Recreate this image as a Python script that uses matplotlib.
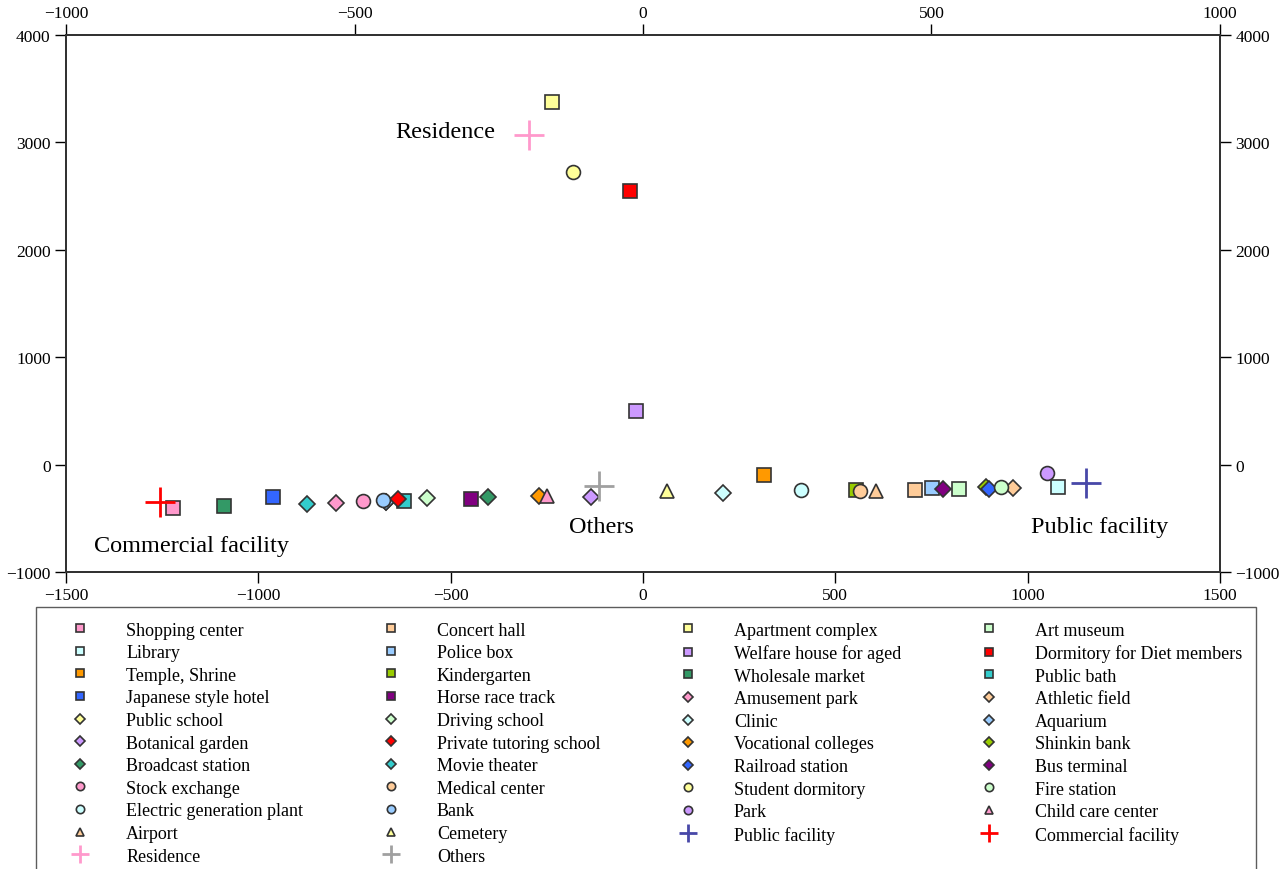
import matplotlib
matplotlib.use("Agg")
import matplotlib.pyplot as plt

plt.rcParams['font.family'] = ['Liberation Serif', 'DejaVu Serif']

# facility names, in plotting order (row by row of the legend)
names = [
    'Shopping center', 'Concert hall', 'Apartment complex', 'Art museum',
    'Library', 'Police box', 'Welfare house for aged', 'Dormitory for Diet members',
    'Temple, Shrine', 'Kindergarten', 'Wholesale market', 'Public bath',
    'Japanese style hotel', 'Horse race track', 'Amusement park', 'Athletic field',
    'Public school', 'Driving school', 'Clinic', 'Aquarium',
    'Botanical garden', 'Private tutoring school', 'Vocational colleges', 'Shinkin bank',
    'Broadcast station', 'Movie theater', 'Railroad station', 'Bus terminal',
    'Stock exchange', 'Medical center', 'Student dormitory', 'Fire station',
    'Electric generation plant', 'Bank', 'Park', 'Child care center',
    'Airport', 'Cemetery', 'Public facility', 'Commercial facility',
    'Residence', 'Others',
]

x_vals = [
    -1221, 707, -237, 822,
    1080, 752, -19, -34,
    315, 555, -1089, -621,
    -961, -448, -798, 962,
    -668, -562, 209, -668,
    -135, -636, -270, 893,
    -402, -874, 899, 781,
    -727, 564, -181, 932,
    412, -675, 1051, -249,
    605, 63, 1151, -1255,
    -296, -114,
]

y_vals = [
    -404, -237, 3373, -227,
    -211, -215, 502, 2550,
    -94, -237, -383, -342,
    -305, -323, -358, -220,
    -345, -314, -264, -345,
    -299, -320, -290, -211,
    -305, -367, -227, -227,
    -342, -243, 2727, -211,
    -234, -330, -81, -295,
    -243, -243, -174, -348,
    3072, -196,
]

markers = [
    's', 's', 's', 's',
    's', 's', 's', 's',
    's', 's', 's', 's',
    's', 's', 'D', 'D',
    'D', 'D', 'D', 'D',
    'D', 'D', 'D', 'D',
    'D', 'D', 'D', 'D',
    'o', 'o', 'o', 'o',
    'o', 'o', 'o', '^',
    '^', '^', '+', '+',
    '+', '+',
]

colors = [
    '#ff99cc', '#ffcc99', '#ffff99', '#ccffcc',
    '#ccffff', '#99ccff', '#cc99ff', '#ff0000',
    '#ff9900', '#99cc00', '#339966', '#33cccc',
    '#3366ff', '#800080', '#ff99cc', '#ffcc99',
    '#ffff99', '#ccffcc', '#ccffff', '#99ccff',
    '#cc99ff', '#ff0000', '#ff9900', '#99cc00',
    '#339966', '#33cccc', '#3366ff', '#800080',
    '#ff99cc', '#ffcc99', '#ffff99', '#ccffcc',
    '#ccffff', '#99ccff', '#cc99ff', '#ff99cc',
    '#ffcc99', '#ffff99', '#4848a8', '#ff0000',
    '#ff99cc', '#a0a0a0',
]

# group labels written next to the crosses
group_labels = ['Residence', 'Others', 'Public facility', 'Commercial facility']
group_x = [-515, -109, 1188, -1175]
group_y = [3097, -572, -572, -758]

fig = plt.figure(figsize=(12.82, 8.70), dpi=100)
ax = fig.add_axes([0.0515, 0.3414, 0.9001, 0.6172])

handles = []
for name, x, y, m, c in zip(names, x_vals, y_vals, markers, colors):
    if m == '+':
        h, = ax.plot(x, y, linestyle='none', marker='+', markersize=22,
                     markeredgewidth=2, color=c, label=name)
    else:
        size = 8.5 if m == 'D' else 10
        h, = ax.plot(x, y, linestyle='none', marker=m, markersize=size,
                     markerfacecolor=c, markeredgecolor='#333333',
                     markeredgewidth=1.2, label=name)
    handles.append(h)

for label, x, y in zip(group_labels, group_x, group_y):
    ax.text(x, y, label, ha='center', va='center', fontsize=17.5)

ax.set_xlim(-1500, 1500)
ax.set_ylim(-1000, 4000)
ax.set_xticks([-1500, -1000, -500, 0, 500, 1000, 1500])
ax.set_yticks([-1000, 0, 1000, 2000, 3000, 4000])
ax.tick_params(direction='out', length=8, width=1, labelsize=12.5, pad=3)

top = ax.twiny()
top.set_xlim(-1000, 1000)
top.set_xticks([-1000, -500, 0, 500, 1000])
top.tick_params(direction='out', length=8, width=1, labelsize=12.5, pad=2)

right = ax.twinx()
right.set_ylim(-1000, 4000)
right.set_yticks([-1000, 0, 1000, 2000, 3000, 4000])
right.tick_params(direction='out', length=8, width=1, labelsize=12.5, pad=3)

for a in (ax, top, right):
    for sp in a.spines.values():
        sp.set_linewidth(1.3)
        sp.set_color('#333333')

# legend filled column by column: reorder so rows read like the plotting order
n = len(handles)
ncol = 4
rows = (n + ncol - 1) // ncol
order = []
for c in range(ncol):
    for r in range(rows):
        i = r * ncol + c
        if i < n:
            order.append(i)

leg = fig.legend([handles[i] for i in order], [names[i] for i in order],
                 loc='upper left', bbox_to_anchor=(0.028, 0.0, 0.952, 0.301),
                 mode='expand', ncol=ncol, fontsize=13, frameon=True,
                 fancybox=False, edgecolor='#333333', markerscale=0.6,
                 handlelength=3.3, handletextpad=0.9, labelspacing=0.31,
                 borderaxespad=0.0, borderpad=0.8)
leg.get_frame().set_linewidth(1.0)

plt.savefig('out.png', dpi=100)
plt.close()
